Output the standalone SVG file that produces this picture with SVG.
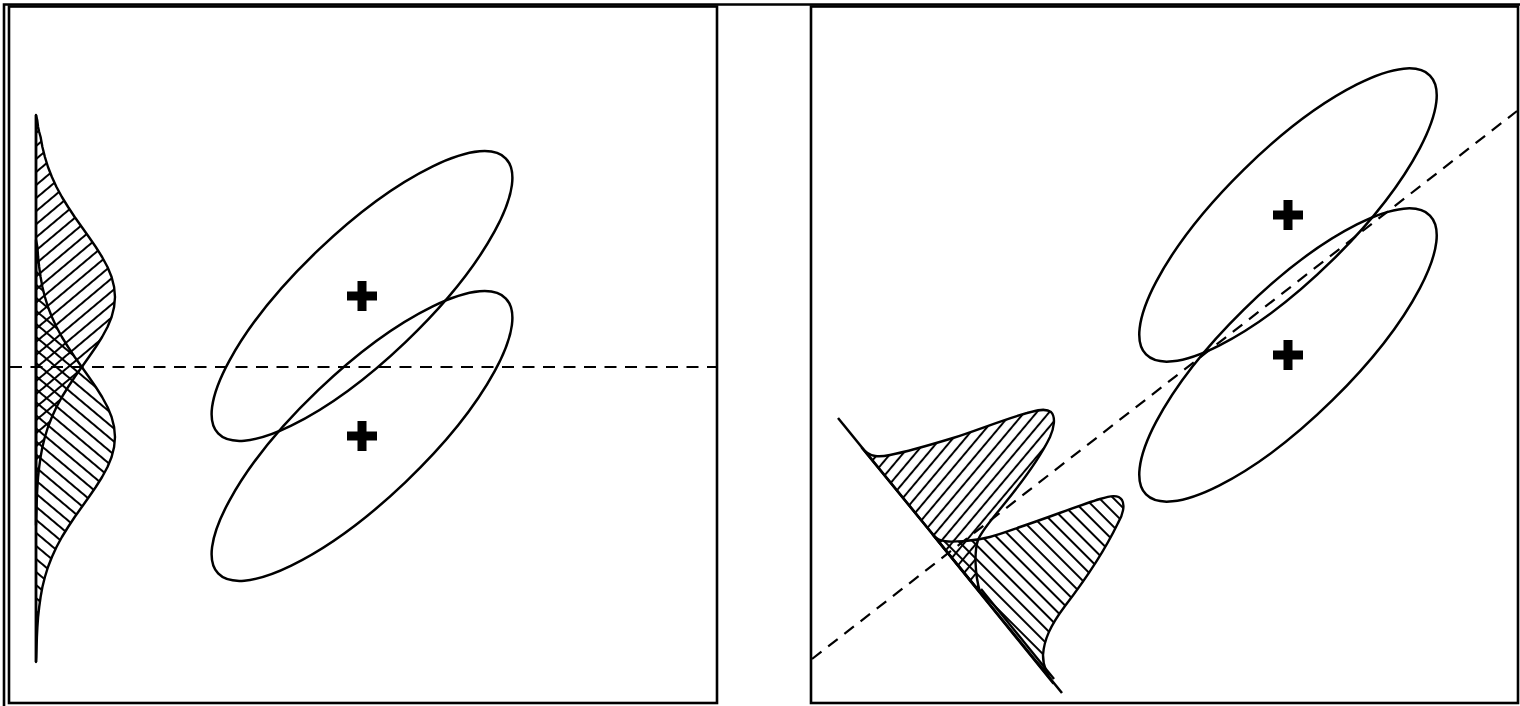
<svg xmlns="http://www.w3.org/2000/svg" width="1520" height="706" viewBox="0 0 1520 706">
<style>
.frame{fill:none;stroke:#000;stroke-width:2.6}
.ell{fill:none;stroke:#000;stroke-width:2.5}
.dash{fill:none;stroke:#000;stroke-width:2.2;stroke-dasharray:12 8.5}
.base{fill:none;stroke:#000;stroke-width:2.5}
.dist{stroke:#000;stroke-width:2.4;stroke-linejoin:round}
.plus{fill:none;stroke:#000;stroke-width:9}
</style>
<defs>
<pattern id="hUpL" patternUnits="userSpaceOnUse" width="20" height="10" patternTransform="rotate(-40)"><line x1="0" y1="5" x2="20" y2="5" stroke="#000" stroke-width="2"/></pattern>
<pattern id="hLoL" patternUnits="userSpaceOnUse" width="20" height="10" patternTransform="rotate(40)"><line x1="0" y1="5" x2="20" y2="5" stroke="#000" stroke-width="2"/></pattern>
<pattern id="hUpR" patternUnits="userSpaceOnUse" width="20" height="9.5" patternTransform="rotate(-50)"><line x1="0" y1="4.75" x2="20" y2="4.75" stroke="#000" stroke-width="2"/></pattern>
<pattern id="hLoR" patternUnits="userSpaceOnUse" width="20" height="10" patternTransform="rotate(45)"><line x1="0" y1="5" x2="20" y2="5" stroke="#000" stroke-width="2"/></pattern>
<g id="plus"><path class="plus" d="M-15,0 H15 M0,-15 V15"/></g>
</defs>
<rect width="1520" height="706" fill="#fff"/>
<path class="frame" d="M4,712 L4,4.5 L1526,4.5"/>

<g id="panel-left">
<rect class="frame" x="9" y="6.5" width="708" height="696.5"/>
<g id="left-dist-upper">
<path class="dist" fill="url(#hUpL)" d="M36,115 L37.2,120 L38.1,127 L39.2,132 L40.6,137 L42.4,147 L44.9,157 L48,167 L51.9,177 L56.5,187 L61.9,197 L68.1,207 L74.7,217 L81.8,227 L88.9,237 L95.8,247 L102.1,257 L107.5,267 L111.6,277 L114.1,287 L115,297 L114.1,307 L111.6,317 L107.5,327 L102.1,337 L95.8,347 L88.9,357 L81.8,367 L74.7,377 L68.1,387 L61.9,397 L56.5,407 L51.9,417 L48,427 L44.9,437 L42.4,447 L40.6,457 L39.2,467 L38.1,477 L37.4,487 L36.9,497 L36.6,507 L36.3,517 L36,525 Z"/>
</g>
<g id="left-dist-lower">
<path class="dist" fill="url(#hLoL)" d="M36,240 L37.4,247 L38.1,257 L39.2,267 L40.6,277 L42.4,287 L44.9,297 L48,307 L51.9,317 L56.5,327 L61.9,337 L68.1,347 L74.7,357 L81.8,367 L88.9,377 L95.8,387 L102.1,397 L107.5,407 L111.6,417 L114.1,427 L115,437 L114.1,447 L111.6,457 L107.5,467 L102.1,477 L95.8,487 L88.9,497 L81.8,507 L74.7,517 L68.1,527 L61.9,537 L56.5,547 L51.9,557 L48,567 L44.9,577 L42.4,587 L40.6,597 L39.2,607 L38.1,617 L37.4,627 L36.9,637 L36.6,647 L36.3,657 L36,662 Z"/>
</g>
<line class="base" x1="36" y1="115" x2="36" y2="662"/>
<g id="left-ellipse-upper"><ellipse class="ell" cx="0" cy="0" rx="199" ry="63.4" transform="translate(362,296) rotate(-43.7)"/><use href="#plus" x="362" y="296"/></g>
<g id="left-ellipse-lower"><ellipse class="ell" cx="0" cy="0" rx="199" ry="63.4" transform="translate(362,436) rotate(-43.7)"/><use href="#plus" x="362" y="436"/></g>
</g>

<g id="panel-right">
<rect class="frame" x="811" y="6.5" width="707" height="696.5"/>
<g id="right-dist-upper">
<path class="dist" fill="url(#hUpR)" d="M862,448 C870,458 880,457 890,455 C910,451 930,445 953,438 C978,430 1005,419 1027,413 C1037,410 1046,408 1051,412 C1056,417 1054,428 1050,437 C1040,458 1022,482 1005,503 C993,518 982,530 978,540 C974,552 975,575 980,592 Z"/>
</g>
<g id="right-dist-lower">
<path class="dist" fill="url(#hLoR)" d="M933,535 C940,543 950,542 965,541 C985,540 1000,534 1020,527 C1050,517 1080,505 1100,499 C1110,496 1118,494 1122,500 C1125,505 1123,515 1118,523 C1105,550 1085,580 1065,606 C1050,626 1044,640 1043,655 C1043,668 1048,676 1053,683 Z"/>
</g>
<line class="dist" x1="981" y1="589" x2="1054" y2="679" stroke-width="1.8"/>
<line class="base" x1="838" y1="418" x2="1062" y2="693"/>
<g id="right-ellipse-upper"><ellipse class="ell" cx="0" cy="0" rx="199" ry="63.4" transform="translate(1288,215) rotate(-44.5)"/><use href="#plus" x="1288" y="215"/></g>
<g id="right-ellipse-lower"><ellipse class="ell" cx="0" cy="0" rx="199" ry="63.4" transform="translate(1288,355) rotate(-44.5)"/><use href="#plus" x="1288" y="355"/></g>
</g>

<g id="connectors">
<line class="dash" x1="10" y1="367" x2="716" y2="367"/>
<line class="dash" x1="812" y1="659" x2="1517" y2="111"/>
</g>
</svg>
